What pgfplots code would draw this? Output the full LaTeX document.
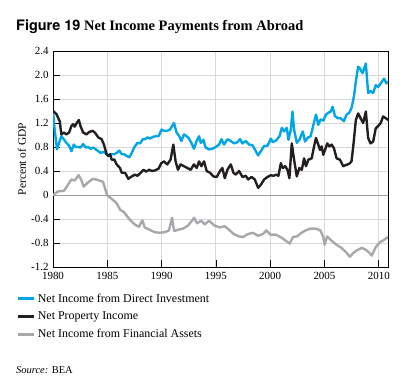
\documentclass[border=0pt]{standalone}
\usepackage{fontspec}
\setmainfont{Liberation Serif}
\newfontfamily\heros{TeX Gyre Heros}
\usepackage{pgfplots}
\pgfplotsset{compat=1.18}
\definecolor{diblue}{RGB}{0,166,230}
\definecolor{propblack}{RGB}{35,31,32}
\definecolor{fingray}{RGB}{166,168,171}
\begin{document}
\begin{tikzpicture}[x=1bp,y=1bp]
\path[use as bounding box] (0,0) rectangle (411,385);
\node[anchor=base west, inner sep=0] at (16,354.5) {\fontsize{14.5}{16}\selectfont{\heros\bfseries Figure 19} \bfseries Net Income Payments from Abroad};
\begin{axis}[
  at={(53bp,118bp)}, anchor=south west,
  scale only axis, width=335bp, height=216bp,
  xmin=1980, xmax=2010.85, ymin=-1.2, ymax=2.4,
  xtick={1980,1985,1990,1995,2000,2005,2010},
  xticklabels={1980,1985,1990,1995,2000,2005,2010},
  ytick={-1.2,-0.8,-0.4,0,0.4,0.8,1.2,1.6,2.0,2.4},
  yticklabels={-1.2,-0.8,-0.4,0,0.4,0.8,1.2,1.6,2.0,2.4},
  tick align=inside, major tick length=7bp,
  xtick pos=bottom, ytick pos=left,
  tick style={black, line width=0.7pt},
  grid=major, major grid style={gray!30, line width=0.8pt},
  axis line style={black, line width=0.8pt},
  ticklabel style={font=\fontsize{11}{12}\selectfont},
  xticklabel style={yshift=-2bp},
  yticklabel style={xshift=-1bp},
  extra y ticks={0}, extra y tick labels={},
  extra y tick style={major tick length=0pt, major grid style={gray!75, line width=0.8pt}},
  ylabel={Percent of GDP},
  ylabel style={font=\fontsize{11.5}{12}\selectfont, at={(axis description cs:-0.093,0.5)}, anchor=center},
  legend style={at={(axis description cs:-0.110,-0.112)}, anchor=north west, draw=none, fill=none,
    font=\fontsize{12}{13}\selectfont, row sep=3bp, inner sep=0pt, nodes={inner sep=2.5bp}},
  legend cell align=left,
  legend image code/.code={\draw[#1, line width=3bp] (0bp,0bp) -- (16bp,0bp);},
  every axis plot/.append style={line width=2.4pt, line join=round},
]
\addplot[diblue] coordinates {
(1980.0,1.40)(1980.15,1.09)(1980.37,0.76)(1980.56,0.87)(1980.77,0.98)(1980.99,0.93)(1981.23,0.87)(1981.48,0.82)(1981.7,0.73)(1981.91,0.84)
(1982.1,0.80)(1982.31,0.80)(1982.53,0.79)(1982.78,0.85)(1983.02,0.79)(1983.24,0.80)(1983.46,0.77)(1983.7,0.79)(1983.95,0.76)(1984.17,0.73)
(1984.38,0.70)(1984.63,0.72)(1984.94,0.68)(1985.19,0.65)(1985.4,0.68)(1985.62,0.68)(1985.86,0.70)(1986.11,0.74)(1986.33,0.68)(1986.54,0.68)
(1986.79,0.65)(1987.04,0.63)(1987.25,0.70)(1987.47,0.79)(1987.78,0.87)(1988.02,0.86)(1988.27,0.93)(1988.49,0.93)(1988.7,0.96)(1988.95,0.94)
(1989.2,0.97)(1989.51,0.98)(1989.72,0.98)(1990.0,1.09)(1990.22,1.07)(1990.52,1.07)(1990.77,1.09)(1991.14,1.20)(1991.38,1.04)(1991.6,0.99)
(1991.82,0.90)(1992.06,1.01)(1992.31,0.98)(1992.52,0.94)(1992.74,0.87)(1992.98,0.77)(1993.23,0.90)(1993.45,0.98)(1993.6,0.87)(1993.85,0.92)
(1994.06,0.79)(1994.37,0.76)(1994.68,0.77)(1994.98,0.80)(1995.29,0.84)(1995.51,0.93)(1995.75,0.84)(1996.06,0.93)(1996.37,0.90)(1996.68,0.86)
(1996.98,0.88)(1997.23,0.93)(1997.45,0.86)(1997.75,0.90)(1998.06,0.84)(1998.37,0.83)(1998.58,0.76)(1998.89,0.66)(1999.14,0.73)(1999.45,0.82)
(1999.75,0.82)(2000.06,0.94)(2000.24,0.88)(2000.55,0.91)(2000.86,0.98)(2001.07,1.12)(2001.28,1.06)(2001.53,1.12)(2001.68,0.92)(2001.9,1.09)
(2002.05,1.39)(2002.2,1.09)(2002.45,0.87)(2002.69,0.92)(2003.0,1.06)(2003.21,0.89)(2003.43,0.95)(2003.73,0.98)(2003.98,1.17)(2004.22,1.34)
(2004.43,1.17)(2004.65,1.26)(2004.89,1.24)(2005.14,1.34)(2005.35,1.37)(2005.57,1.39)(2005.75,1.47)(2005.96,1.32)(2006.21,1.28)(2006.48,1.28)
(2006.79,1.23)(2007.03,1.34)(2007.28,1.37)(2007.49,1.45)(2007.71,1.64)(2007.89,1.89)(2008.1,2.14)(2008.26,2.11)(2008.5,2.03)(2008.81,2.19)
(2009.02,1.70)(2009.24,1.73)(2009.48,1.70)(2009.72,1.83)(2009.94,1.80)(2010.18,1.86)(2010.49,1.94)(2010.7,1.86)(2010.86,1.89)
};
\addlegendentry{Net Income from Direct Investment}
\addplot[propblack] coordinates {
(1980.0,1.40)(1980.31,1.35)(1980.62,1.23)(1980.77,1.01)(1980.99,1.04)(1981.23,1.01)(1981.48,1.04)(1981.7,1.15)(1981.85,1.18)(1982.0,1.14)
(1982.22,1.21)(1982.38,1.25)(1982.53,1.15)(1982.78,1.04)(1983.09,1.01)(1983.33,1.05)(1983.64,1.07)(1983.86,1.04)(1984.17,0.96)(1984.48,0.93)
(1984.69,0.84)(1984.94,0.68)(1985.09,0.65)(1985.25,0.68)(1985.4,0.59)(1985.65,0.59)(1985.86,0.51)(1986.17,0.45)(1986.33,0.37)(1986.64,0.37)
(1986.94,0.27)(1987.25,0.31)(1987.56,0.34)(1987.78,0.32)(1988.02,0.36)(1988.33,0.42)(1988.58,0.39)(1988.86,0.42)(1989.1,0.40)(1989.41,0.41)
(1989.72,0.44)(1989.97,0.53)(1990.22,0.56)(1990.52,0.51)(1990.83,0.59)(1991.08,0.84)(1991.29,0.56)(1991.51,0.42)(1991.75,0.51)(1992.06,0.48)
(1992.37,0.45)(1992.68,0.42)(1992.98,0.51)(1993.23,0.45)(1993.45,0.56)(1993.66,0.48)(1993.91,0.56)(1994.15,0.40)(1994.46,0.37)(1994.77,0.31)
(1995.08,0.30)(1995.38,0.40)(1995.6,0.45)(1995.82,0.28)(1996.06,0.42)(1996.37,0.51)(1996.62,0.37)(1996.83,0.34)(1997.14,0.40)(1997.45,0.30)
(1997.75,0.32)(1997.97,0.26)(1998.28,0.30)(1998.58,0.26)(1998.89,0.12)(1999.14,0.17)(1999.45,0.26)(1999.75,0.30)(2000.06,0.33)(2000.31,0.32)
(2000.55,0.34)(2000.76,0.32)(2000.98,0.53)(2001.16,0.45)(2001.38,0.48)(2001.59,0.42)(2001.77,0.28)(2001.99,0.86)(2002.2,0.59)(2002.45,0.31)
(2002.69,0.45)(2002.91,0.42)(2003.12,0.61)(2003.3,0.48)(2003.52,0.59)(2003.82,0.61)(2004.04,0.81)(2004.22,0.95)(2004.43,0.84)(2004.59,0.75)
(2004.74,0.81)(2004.89,0.67)(2005.05,0.75)(2005.26,0.86)(2005.44,0.81)(2005.66,0.84)(2005.87,0.78)(2006.12,0.61)(2006.42,0.59)(2006.73,0.48)
(2006.97,0.50)(2007.28,0.52)(2007.49,0.56)(2007.65,0.81)(2007.89,1.25)(2008.1,1.36)(2008.32,1.28)(2008.56,1.20)(2008.81,1.39)(2009.02,0.95)
(2009.24,0.86)(2009.48,0.89)(2009.72,1.11)(2009.94,1.15)(2010.18,1.20)(2010.4,1.31)(2010.64,1.28)(2010.86,1.25)
};
\addlegendentry{Net Property Income}
\addplot[fingray] coordinates {
(1980.0,0.00)(1980.46,0.06)(1981.01,0.07)(1981.38,0.17)(1981.69,0.26)(1982.0,0.24)(1982.36,0.33)(1982.61,0.25)(1982.82,0.14)(1983.22,0.21)
(1983.68,0.27)(1984.14,0.25)(1984.61,0.22)(1984.79,0.11)(1984.97,0.00)(1985.37,-0.06)(1985.83,-0.13)(1986.2,-0.25)(1986.51,-0.28)(1987.06,-0.41)
(1987.52,-0.49)(1987.92,-0.53)(1988.23,-0.42)(1988.44,-0.54)(1988.9,-0.58)(1989.36,-0.62)(1989.82,-0.63)(1990.29,-0.62)(1990.68,-0.59)(1990.96,-0.38)
(1991.15,-0.60)(1991.51,-0.58)(1991.97,-0.56)(1992.43,-0.51)(1992.83,-0.42)(1992.99,-0.38)(1993.26,-0.47)(1993.66,-0.43)(1993.97,-0.49)(1994.37,-0.43)
(1994.89,-0.51)(1995.35,-0.54)(1995.81,-0.52)(1996.21,-0.58)(1996.64,-0.65)(1997.13,-0.69)(1997.5,-0.70)(1997.96,-0.65)(1998.42,-0.63)(1998.88,-0.68)
(1999.34,-0.65)(1999.65,-0.59)(2000.02,-0.66)(2000.51,-0.66)(2001.03,-0.71)(2001.49,-0.77)(2001.8,-0.81)(2002.1,-0.70)(2002.47,-0.69)(2002.87,-0.63)
(2003.27,-0.59)(2003.7,-0.56)(2004.19,-0.56)(2004.62,-0.59)(2004.87,-0.69)(2005.02,-0.83)(2005.24,-0.69)(2005.64,-0.76)(2006.1,-0.83)(2006.56,-0.88)
(2007.02,-0.96)(2007.33,-1.03)(2007.63,-0.97)(2008.0,-0.92)(2008.46,-0.88)(2008.86,-0.92)(2009.17,-0.97)(2009.35,-1.01)(2009.72,-0.87)(2010.09,-0.79)
(2010.46,-0.75)(2010.86,-0.70)
};
\addlegendentry{Net Income from Financial Assets}
\end{axis}
\node[anchor=west, inner sep=0] at (16,15) {\fontsize{10.5}{12}\selectfont\textit{Source:} BEA};
\end{tikzpicture}
\end{document}
